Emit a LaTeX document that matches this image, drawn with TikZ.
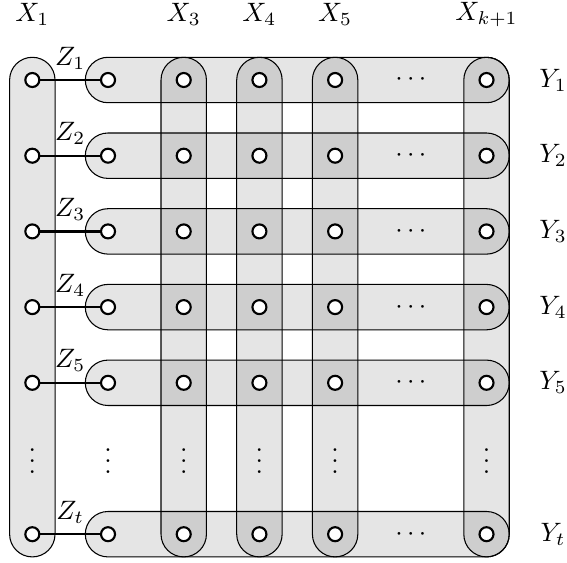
\documentclass[tikz,border=0pt]{standalone}
\usetikzlibrary{calc}
\begin{document}
\begin{tikzpicture}[
  vtx/.style={circle,draw,fill=white,inner sep=0pt,minimum size=0.185cm,line width=0.8pt},
  hedge/.style={draw,line width=0.4pt,fill=black,fill opacity=0.1},
  zedge/.style={line width=0.9pt},
  lab/.style={inner sep=0pt}
]
\useasboundingbox (-0.427,-6.38) rectangle (7.063,1.057);
% positions
\foreach \r/\y in {1/0,2/-1,3/-2,4/-3,5/-4,t/-6}{
  \foreach \c/\x in {1/0,2/1,3/2,4/3,5/4,k/6}{
    \coordinate (p\c-\r) at (\x,\y);
  }
}
% column hyperedges
\foreach \c in {1,3,4,5,k}{
  \draw[hedge] ($(p\c-1)+(-0.3,0)$) arc[start angle=180,end angle=0,radius=0.3]
    -- ($(p\c-t)+(0.3,0)$) arc[start angle=0,end angle=-180,radius=0.3] -- cycle;
}
% row hyperedges
\foreach \r in {1,2,3,4,5,t}{
  \draw[hedge] ($(p2-\r)+(0,0.3)$) -- ($(pk-\r)+(0,0.3)$)
    arc[start angle=90,end angle=-90,radius=0.3]
    -- ($(p2-\r)+(0,-0.3)$) arc[start angle=270,end angle=90,radius=0.3] -- cycle;
}
% vertices
\foreach \r in {1,2,3,4,5,t}{
  \foreach \c in {1,2,3,4,5,k}{
    \node[vtx] (v\c-\r) at (p\c-\r) {};
  }
  \draw[zedge] (v1-\r) -- (v2-\r);
  \node[lab] (dots-\r) at ($(p5-\r)!0.5!(pk-\r)$) {$\cdots$};
}
% Z labels
\foreach \r in {1,2,3,4,5,t}{
  \node[lab] (z\r) at ($(p1-\r)!0.5!(p2-\r)+(0,0.29)$) {$Z_{\r}$};
}
% vertical dots
\foreach \c/\x in {1/0,2/1,3/2,4/3,5/4,k/6}{
  \node[lab] (vd\c) at (\x,-4.93) {$\vdots$};
}
% X labels
\node[lab] (lx1) at (0,0.87) {$X_1$};
\node[lab] (lx3) at (2,0.87) {$X_3$};
\node[lab] (lx4) at (3,0.87) {$X_4$};
\node[lab] (lx5) at (4,0.87) {$X_5$};
\node[lab] (lxk) at (6,0.87) {$X_{k+1}$};
% Y labels
\foreach \r/\y in {1/0,2/-1,3/-2,4/-3,5/-4,t/-6}{
  \node[lab] (ly\r) at (6.88,\y) {$Y_{\r}$};
}
\end{tikzpicture}
\end{document}
